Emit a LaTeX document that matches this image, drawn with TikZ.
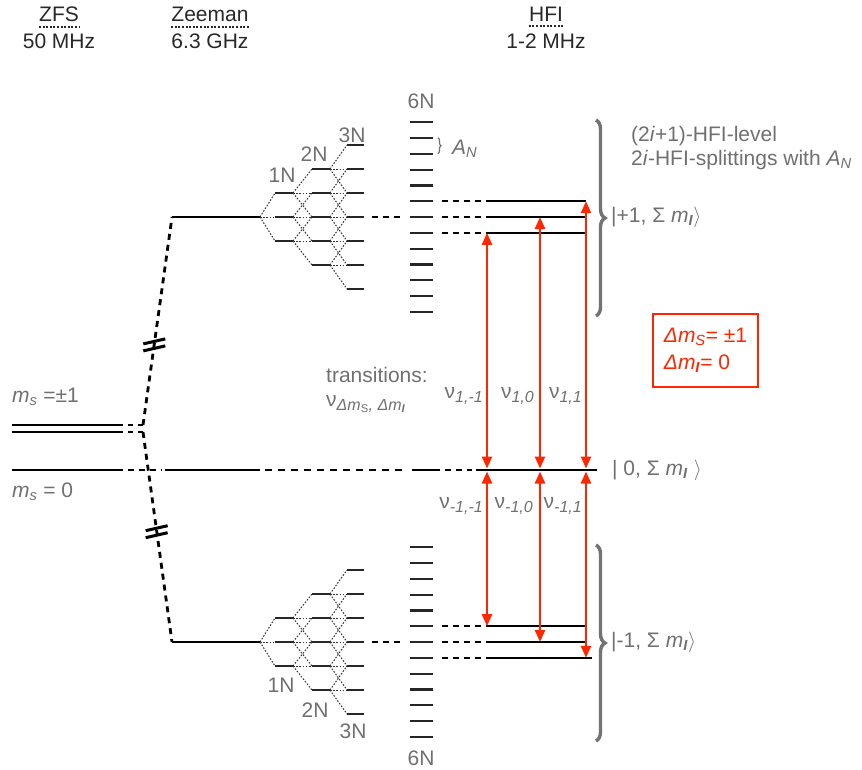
\documentclass[tikz,border=0pt]{standalone}
\usepackage{fontspec}
\setmainfont{Liberation Sans}
\usetikzlibrary{arrows.meta,calc,decorations.pathreplacing}
\definecolor{lblgray}{RGB}{112,112,112}
\definecolor{hdrgray}{RGB}{40,40,40}
\definecolor{trred}{RGB}{255,38,0}
\newcommand{\mI}{\textit{m}\textsubscript{\textbf{\textit{I}}}}
\newcommand{\nusub}[1]{\raisebox{-4pt}{\fontsize{16}{16}\selectfont\textit{#1}}}

\begin{document}
\begin{tikzpicture}[
    x=1pt, y=-1pt,
    every node/.style={font=\fontsize{21}{25}\selectfont, inner sep=0pt},
    lbl/.style={text=lblgray},
    hdr/.style={text=hdrgray},
    uline/.style={line width=2pt, hdrgray, dash pattern=on 2pt off 1.6pt},
    level/.style={line width=1.6pt, black},
    sublevel/.style={line width=1.4pt, black!85},
    rung/.style={line width=2.2pt, black!85},
    conn/.style={line width=1pt, black!80, dash pattern=on 1.6pt off 1.6pt},
    zee/.style={line width=2.8pt, dash pattern=on 6pt off 5pt},
    hfidash/.style={line width=1.6pt, dash pattern=on 6pt off 5pt},
    trans/.style={line width=2.2pt, trred, {Triangle[length=12pt,width=10pt]}-{Triangle[length=12pt,width=10pt]}},
    bigbrace/.style={decorate, decoration={brace, amplitude=9pt}, line width=3.4pt, black!55},
    rulebox/.style={draw=trred, line width=2.5pt, text=trred, align=left,
        minimum width=105pt, minimum height=73pt, font=\fontsize{21}{27}\selectfont}
]
\useasboundingbox (0,0) rectangle (862,769);

% header
\node[hdr] (zfs) at (59,14) {ZFS};
\node[hdr] (zfsval) at (59,41) {50 MHz};
\node[hdr] (zee) at (210,14) {Zeeman};
\node[hdr] (zeeval) at (210,41) {6.3 GHz};
\node[hdr] (hfi) at (546,14) {HFI};
\node[hdr] (hfival) at (546,41) {1-2 MHz};
\foreach \n in {zfs,zee,hfi}
    \draw[uline] ($(\n.south west)+(0,5)$) -- ($(\n.south east)+(0,5)$);

% zero-field levels
\draw[level] (12,425) -- (123,425);
\draw[level] (12,432) -- (123,432);
\draw[level, dash pattern=on 5pt off 5pt] (128,425) -- (143,425);
\draw[level, dash pattern=on 5pt off 5pt] (128,432) -- (143,432);
\node[lbl, anchor=west] (msp) at (12,397) {\textit{m}\textsubscript{\textit{s}} =±1};
\node[lbl, anchor=west] (mso) at (12,492) {\textit{m}\textsubscript{\textit{s}} = 0};

% m_s = 0 line
\draw[level] (12,470) -- (123,470);
\draw[level, dash pattern=on 6pt off 5pt] (128,470) -- (162,470);
\draw[level] (165,470) -- (260,470);
\draw[level, dash pattern=on 7pt off 6pt] (265,470) -- (405,470);
\draw[level] (412,470) -- (440,470);
\draw[level, dash pattern=on 6pt off 5pt] (445,470) -- (472,470);
\draw[level] (476,470) -- (597,470);

% Zeeman branches
\coordinate (zu0) at (143,425);
\coordinate (zu1) at (172,217);
\coordinate (zd0) at (143,432);
\coordinate (zd1) at (172,642);
\draw[zee] (zu0) -- (zu1);
\draw[zee] (zd0) -- (zd1);
\draw[level] (zu1) -- (260,217);
\draw[level] (zd1) -- (260,642);
\coordinate (bru) at ($(zu0)!0.39!(zu1)$);
\coordinate (brd) at ($(zd0)!0.47!(zd1)$);
\foreach \b in {bru,brd} {
    \draw[line width=3pt] ($(\b)+(-11,0)$) -- ($(\b)+(11,-5)$);
    \draw[line width=3pt] ($(\b)+(-11,7)$) -- ($(\b)+(11,2)$);
}

% hyperfine trees and 6N ladders
\foreach \yc in {217,642} {
    \foreach \k/\s/\e/\p in {1/275/293/260, 2/312/330/293, 3/347/364/330} {
        \pgfmathtruncatemacro\kl{1-\k}
        \pgfmathtruncatemacro\kh{\k-1}
        \foreach \j in {-\k,...,\k}
            \draw[sublevel] (\s,{\yc+\j*24}) -- (\e,{\yc+\j*24});
        \foreach \j in {\kl,...,\kh}
            \foreach \o in {-1,0,1}
                \draw[conn] (\p,{\yc+\j*24}) -- (\s,{\yc+(\j+\o)*24});
    }
    \draw[zee, line width=2.2pt] (372,\yc) -- (404,\yc);
    \foreach \j in {-6,...,6}
        \draw[rung] (410,{\yc+\j*15.8}) -- (433,{\yc+\j*15.8});
    \foreach \j in {-1,0,1}
        \draw[hfidash] (442,{\yc+\j*15.8}) -- (482,{\yc+\j*15.8});
}
\node[lbl] (n1u) at (282,175) {1N};
\node[lbl] (n2u) at (314,154) {2N};
\node[lbl] (n3u) at (352,135) {3N};
\node[lbl] (n1d) at (281,685) {1N};
\node[lbl] (n2d) at (315,710) {2N};
\node[lbl] (n3d) at (353,731) {3N};
\node[lbl] (six_u) at (421,101) {6N};
\node[lbl] (six_d) at (421,758) {6N};
\draw[decorate, decoration={brace, amplitude=3pt}, line width=1.2pt, lblgray] (438,137.8) -- (438,153.6);
\node[lbl, anchor=west] (an) at (452,149) {\textit{A}\textsubscript{\textit{N}}};

% HFI levels of m_s = +1 and -1
\draw[level] (486,201.2) -- (586,201.2);
\draw[level] (486,217) -- (586,217);
\draw[level] (486,232.8) -- (586,232.8);
\draw[level] (486,626.2) -- (587,626.2);
\draw[level] (486,642) -- (587,642);
\draw[level] (486,657.8) -- (592,657.8);

% transitions
\coordinate (a1) at (487,232.8);
\coordinate (a2) at (540,217);
\coordinate (a3) at (586,201.2);
\coordinate (b1) at (487,626.2);
\coordinate (b2) at (540,642);
\coordinate (b3) at (586,657.8);
\foreach \c/\x in {a1/487,a2/540,a3/586}
    \draw[trans] (\x,468.5) -- (\c);
\foreach \c/\x in {b1/487,b2/540,b3/586}
    \draw[trans] (\x,471.5) -- (\c);
\node[lbl, anchor=east] (nu1) at (483,396) {ν\nusub{1,-1}};
\node[lbl, anchor=east] (nu2) at (534,396) {ν\nusub{1,0}};
\node[lbl, anchor=east] (nu3) at (582,396) {ν\nusub{1,1}};
\node[lbl, anchor=east] (nu4) at (483,506) {ν\nusub{-1,-1}};
\node[lbl, anchor=east] (nu5) at (533,506) {ν\nusub{-1,0}};
\node[lbl, anchor=east] (nu6) at (582,506) {ν\nusub{-1,1}};
\node[lbl, anchor=west] (tr) at (326,375) {transitions:};
\node[lbl, anchor=west] (trnu) at (326,404) {ν\nusub{Δm\textsubscript{\upshape S}, Δm\textsubscript{\textbf{I}}}};

% manifolds
\draw[bigbrace] (596,120) -- (596,316);
\draw[bigbrace] (596,545) -- (596,741);
\node[lbl, anchor=west] (kp) at (611,217) {|+1, Σ \mI$\rangle$};
\node[lbl, anchor=west] (k0) at (612,470) {| 0, Σ \mI\ $\rangle$};
\node[lbl, anchor=west] (km) at (611,642) {|-1, Σ \mI$\rangle$};
\node[lbl, anchor=west] (hfa) at (631,136) {(2\textit{i}+1)-HFI-level};
\node[lbl, anchor=west] (hfb) at (631,160) {2\textit{i}-HFI-splittings with \textit{A}\textsubscript{\textit{N}}};

% selection rules
\node[rulebox] (rules) at (705.5,350.5) {\textit{Δm}\textsubscript{\textit{S}}= ±1\\\textit{Δm}\textsubscript{\textbf{\textit{I}}}= 0};
\end{tikzpicture}
\end{document}
